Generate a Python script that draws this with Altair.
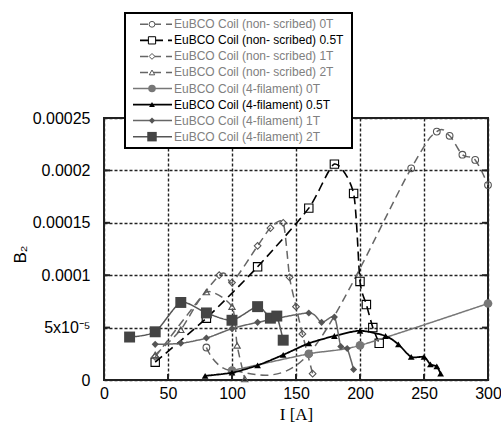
import altair as alt
import pandas as pd

# ---- data (B values in units of 1e-5) ----
# EuBCO Coil (non- scribed)
ns0_I = [80, 100, 160, 240, 260, 270, 280, 290, 300]
ns0_B = [3.1, 0.9, 2.5, 20.2, 23.7, 23.3, 21.5, 21.0, 18.6]
ns05_I = [40, 80, 120, 160, 180, 195, 200, 205, 210, 215]
ns05_B = [1.7, 5.9, 10.8, 16.4, 20.6, 17.8, 9.4, 7.2, 5.0, 3.5]
ns1_I = [40, 90, 100, 120, 130, 140, 145, 150, 155, 163]
ns1_B = [2.2, 10.0, 9.3, 12.8, 14.5, 15.0, 9.8, 7.0, 4.4, 0.6]
ns2_I = [40, 60, 80, 100, 104, 110]
ns2_B = [2.4, 4.8, 8.4, 7.0, 3.3, 0.1]
# EuBCO Coil (4-filament)
f0_I = [100, 160, 200, 300]
f0_B = [0.9, 2.5, 3.3, 7.3]
f05_I = [79, 100, 120, 140, 160, 180, 200, 220, 230, 240, 250, 255, 260, 263]
f05_B = [0.4, 0.7, 1.4, 2.4, 3.5, 4.2, 4.7, 4.2, 3.4, 2.2, 2.2, 1.5, 1.3, 0.6]
f1_I = [40, 60, 80, 100, 120, 160, 170, 180, 185, 190, 195]
f1_B = [3.4, 3.5, 4.0, 4.9, 5.5, 6.4, 5.5, 6.0, 3.2, 3.0, 1.0]
f2_I = [20, 40, 60, 80, 100, 120, 130, 135, 140]
f2_B = [4.1, 4.6, 7.4, 6.4, 5.7, 7.0, 5.9, 6.1, 3.8]

labels = [
    "EuBCO Coil (non- scribed) 0T",
    "EuBCO Coil (non- scribed) 0.5T",
    "EuBCO Coil (non- scribed) 1T",
    "EuBCO Coil (non- scribed) 2T",
    "EuBCO Coil (4-filament) 0T",
    "EuBCO Coil (4-filament) 0.5T",
    "EuBCO Coil (4-filament) 1T",
    "EuBCO Coil (4-filament) 2T",
]
x_ticks = [0, 50, 100, 150, 200, 250, 300]
y_ticks = [0, 5, 10, 15, 20, 25]
y_tick_labels = ["0", "5x10⁻⁵", "0.0001", "0.00015", "0.0002", "0.00025"]

# style per series: (I, B, shape, filled, line color, marker color, dash, width, size, tension)
series = [
    (ns0_I, ns0_B, "circle", False, "#666666", "#555555", [8, 5], 1.5, 45, 0.0),
    (ns05_I, ns05_B, "square", False, "#000000", "#000000", [9, 5], 1.6, 70, 0.3),
    (ns1_I, ns1_B, "diamond", False, "#666666", "#555555", [8, 5], 1.5, 45, 0.3),
    (ns2_I, ns2_B, "triangle-up", False, "#666666", "#555555", [8, 5], 1.5, 40, 0.3),
    (f0_I, f0_B, "circle", True, "#777777", "#777777", [1, 0], 1.5, 75, 0.3),
    (f05_I, f05_B, "triangle-up", True, "#000000", "#000000", [1, 0], 1.8, 45, 0.3),
    (f1_I, f1_B, "diamond", True, "#666666", "#555555", [1, 0], 1.5, 50, 0.3),
    (f2_I, f2_B, "square", True, "#555555", "#444444", [1, 0], 1.5, 120, 0.3),
]
label_colors = ["#808080", "#000000", "#808080", "#808080",
                "#808080", "#000000", "#808080", "#808080"]

font = "Liberation Sans"
y_label_expr = "[" + ",".join("'" + s + "'" for s in y_tick_labels) + "][round(datum.value/5)]"

X = alt.X("I:Q", scale=alt.Scale(domain=[0, 300], nice=False),
          axis=alt.Axis(values=x_ticks, title="I [A]", grid=True, ticks=False,
                        domain=False, labelFont=font, labelFontSize=16,
                        labelPadding=5, labelColor="#000", labelFlush=False,
                        titleFont="Liberation Serif", titleFontSize=17,
                        titleFontWeight="normal", titleY=34, titleBaseline="middle",
                        gridDash=[3, 2], gridColor="#222", gridWidth=1.4))
Y = alt.Y("B:Q", scale=alt.Scale(domain=[0, 25], nice=False),
          axis=alt.Axis(values=y_ticks, title="B₂", grid=True, ticks=False,
                        domain=False, labelFont=font, labelFontSize=16,
                        labelPadding=14, labelColor="#000", labelExpr=y_label_expr,
                        labelFlush=False,
                        titleFont=font, titleFontSize=17, titleFontWeight="normal",
                        titleX=-84, titleY=136, titleAngle=-90,
                        titleAlign="center", titleBaseline="middle",
                        gridDash=[3, 2], gridColor="#222", gridWidth=1.4))

layers = []
for k, (I, B, shape, filled, lc, mc, dash, w, size, ten) in enumerate(series):
    df = pd.DataFrame({"I": I, "B": B, "i": list(range(len(I)))})
    base = alt.Chart(df)
    line = base.mark_line(interpolate="cardinal", tension=ten, color=lc,
                          strokeDash=dash, strokeWidth=w, clip=False).encode(
        x=X, y=Y, order=alt.Order("i:Q"))
    pts = base.mark_point(shape=shape, filled=filled, size=size, color=mc,
                          strokeWidth=1.1, opacity=1, fillOpacity=1).encode(x=X, y=Y)
    layers += [line, pts]

# inward tick marks on left, right and bottom edges
tick_y = pd.DataFrame({"B": y_ticks[1:-1]})
layers.append(alt.Chart(tick_y).mark_rule(color="#222", strokeWidth=2).encode(
    x=alt.value(0), x2=alt.value(6), y=Y))
layers.append(alt.Chart(tick_y).mark_rule(color="#222", strokeWidth=2).encode(
    x=alt.value(378), x2=alt.value(384), y=Y))
tick_x = pd.DataFrame({"I": x_ticks[1:-1]})
layers.append(alt.Chart(tick_x).mark_rule(color="#222", strokeWidth=2).encode(
    x=X, y=alt.value(256), y2=alt.value(262)))

# ---- legend (drawn manually) ----
one = pd.DataFrame({"a": [0]})
box = alt.Chart(one).mark_rect(fill="white", stroke="#000", strokeWidth=2).encode(
    x=alt.value(21), x2=alt.value(248), y=alt.value(-105), y2=alt.value(30))
layers.append(box)
row0, step = -93.7, 16.05
for k, (I, B, shape, filled, lc, mc, dash, w, size, ten) in enumerate(series):
    ly = row0 + step * k
    x0 = 36 if k < 4 else 29
    rule = alt.Chart(one).mark_rule(color=lc, strokeDash=dash, strokeWidth=w).encode(
        x=alt.value(x0), x2=alt.value(68), y=alt.value(ly))
    pt = alt.Chart(one).mark_point(shape=shape, filled=filled, size=size * 0.75,
                                   color=mc, strokeWidth=1, opacity=1,
                                   fill="white" if not filled else mc).encode(
        x=alt.value(48), y=alt.value(ly))
    txt = alt.Chart(one).mark_text(text=labels[k], align="left", baseline="middle",
                                   font="Liberation Sans", fontSize=12,
                                   color=label_colors[k]).encode(
        x=alt.value(70), y=alt.value(ly))
    layers += [rule, pt, txt]

chart = alt.layer(*layers).properties(
    width=384, height=262,
    autosize=alt.AutoSizeParams(type="none"),
    padding={"left": 104, "top": 118, "right": 13, "bottom": 44},
    background="white",
).configure_view(stroke="#222", strokeWidth=2)

chart.save("out.html", embed_options={"renderer": "svg", "actions": False})
